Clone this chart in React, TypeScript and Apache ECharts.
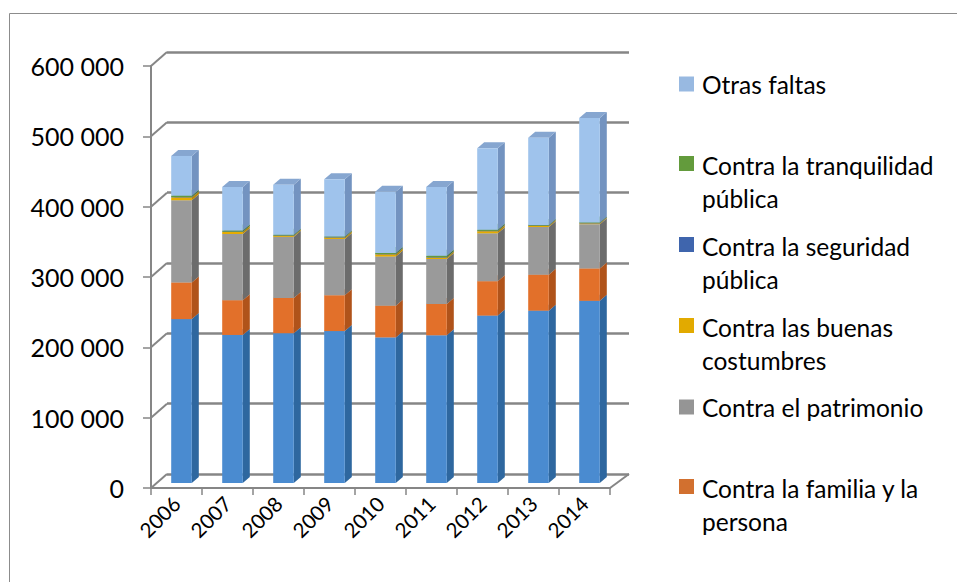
import { useEffect, useRef } from 'react';
import * as echarts from 'echarts';

const years = ['2006', '2007', '2008', '2009', '2010', '2011', '2012', '2013', '2014'];

// stacked from bottom to top
const baseSerie = [233000, 210500, 213000, 216000, 207000, 210000, 238000, 245000, 259000];
const familiaPersona = [52000, 49500, 50000, 51000, 45000, 44500, 49000, 51000, 46000];
const patrimonio = [117000, 94000, 87000, 80000, 70000, 64000, 68000, 68000, 63000];
const buenasCostumbres = [4000, 3000, 1500, 2000, 3000, 2000, 3000, 1500, 1000];
const seguridadPublica = [500, 400, 400, 500, 500, 500, 500, 500, 500];
const tranquilidadPublica = [2000, 1500, 1000, 1000, 1500, 2000, 1500, 1000, 1000];
const otrasFaltas = [56500, 62000, 71000, 81500, 87000, 98000, 116000, 124000, 148500];

const yTicks = [0, 100000, 200000, 300000, 400000, 500000, 600000];

const stackNames = [
  'Serie inferior',
  'Contra la familia y la persona',
  'Contra el patrimonio',
  'Contra las buenas costumbres',
  'Contra la seguridad pública',
  'Contra la tranquilidad pública',
  'Otras faltas',
];
const stackValues = [
  baseSerie,
  familiaPersona,
  patrimonio,
  buenasCostumbres,
  seguridadPublica,
  tranquilidadPublica,
  otrasFaltas,
];
const faceColors = [
  { front: '#4a8bd0', side: '#2e679f', top: '#6aa0d8', legend: '#4a8bd0' },
  { front: '#e2702a', side: '#b0531a', top: '#eb8a4c', legend: '#d2702f' },
  { front: '#9a9a9a', side: '#6c6c6c', top: '#adadad', legend: '#959595' },
  { front: '#e6ac00', side: '#b98900', top: '#f0c030', legend: '#e2aa00' },
  { front: '#4169b5', side: '#2f4f8a', top: '#5a80c4', legend: '#3f65ad' },
  { front: '#62993e', side: '#4a7630', top: '#7ab257', legend: '#639b3c' },
  { front: '#9fc3ec', side: '#7393c0', top: '#86a6d0', legend: '#98b9e1' },
];

const legendEntries = [
  { name: 'Otras faltas', text: 'Otras faltas', lineY: 84 },
  { name: 'Contra la tranquilidad pública', text: 'Contra la tranquilidad\npública', lineY: 165 },
  { name: 'Contra la seguridad pública', text: 'Contra la seguridad\npública', lineY: 246 },
  { name: 'Contra las buenas costumbres', text: 'Contra las buenas\ncostumbres', lineY: 327 },
  { name: 'Contra el patrimonio', text: 'Contra el patrimonio', lineY: 407 },
  { name: 'Contra la familia y la persona', text: 'Contra la familia y la\npersona', lineY: 488 },
];

const FRONT = { left: 151, top: 66, width: 459, height: 422 };
const BACK = { left: 167, top: 52, width: 462, height: 422 };
const BARS = { left: 156, top: 61, width: 459, height: 422 };
const AXIS_GRAY = '#868686';
const FONT = 'Lato, "Noto Sans", sans-serif';
const BAR_HALF = 10.3;
const SIDE_DX = 7;
const SIDE_DY = -6;
const ICON = 15;
const LINE_H = 33;
const TALL_H = 2 * LINE_H - ICON;
const TALL_ICON = `path://M0,0H${ICON}V${ICON}H0Z M0,${TALL_H - 0.05}H0.05V${TALL_H}H0Z`;

export default function App() {
  const ref = useRef<HTMLDivElement>(null);

  useEffect(() => {
    const chart = echarts.init(ref.current as HTMLDivElement, null, { renderer: 'svg' });

    const yAxisBase = { type: 'value', min: 0, max: 600000, interval: 100000 };

    const barSeries = stackNames.map((name, k) => {
      const data = years.map((_, i) => {
        let base = 0;
        for (let j = 0; j < k; j++) base += stackValues[j][i];
        return [i, base, base + stackValues[k][i]];
      });
      const c = faceColors[k];
      return {
        type: 'custom',
        name,
        xAxisIndex: 2,
        yAxisIndex: 2,
        itemStyle: { color: c.legend },
        encode: { x: 0, y: 2 },
        data,
        renderItem: (params: any, api: any) => {
          const i = api.value(0);
          const b = api.coord([i, api.value(1)]);
          const t = api.coord([i, api.value(2)]);
          const xL = b[0] - BAR_HALF;
          const xR = b[0] + BAR_HALF;
          const yB = b[1];
          const yT = t[1];
          return {
            type: 'group',
            children: [
              {
                type: 'polygon',
                shape: {
                  points: [
                    [xR, yB],
                    [xR + SIDE_DX, yB + SIDE_DY],
                    [xR + SIDE_DX, yT + SIDE_DY],
                    [xR, yT],
                  ],
                },
                style: { fill: c.side },
              },
              {
                type: 'polygon',
                shape: {
                  points: [
                    [xL, yT],
                    [xL + SIDE_DX, yT + SIDE_DY],
                    [xR + SIDE_DX, yT + SIDE_DY],
                    [xR, yT],
                  ],
                },
                style: { fill: c.top },
              },
              {
                type: 'rect',
                shape: { x: xL, y: yT, width: xR - xL, height: yB - yT },
                style: { fill: c.front },
              },
            ],
          };
        },
      };
    });

    const connectorSeries = {
      type: 'custom',
      name: 'conectores',
      xAxisIndex: 0,
      yAxisIndex: 0,
      silent: true,
      data: yTicks.map((v) => [0, v]),
      renderItem: (params: any, api: any) => {
        const p = api.coord([0, api.value(1)]);
        const bw = api.size([1, 0])[0];
        const x0 = p[0] - bw / 2;
        return {
          type: 'line',
          shape: { x1: x0, y1: p[1], x2: x0 + 16, y2: p[1] - 14 },
          style: { stroke: AXIS_GRAY, lineWidth: 2 },
        };
      },
    };

    const floorRightSeries = {
      type: 'custom',
      name: 'piso',
      xAxisIndex: 0,
      yAxisIndex: 0,
      silent: true,
      data: [[years.length - 1, 0]],
      renderItem: (params: any, api: any) => {
        const p = api.coord([api.value(0), api.value(1)]);
        const bw = api.size([1, 0])[0];
        const x0 = p[0] + bw / 2;
        return {
          type: 'line',
          shape: { x1: x0, y1: p[1], x2: x0 + 19, y2: p[1] - 14 },
          style: { stroke: AXIS_GRAY, lineWidth: 2 },
        };
      },
    };

    const legends = legendEntries.map((e) => {
      const twoLine = e.text.includes('\n');
      return {
        show: true,
        orient: 'vertical',
        left: 679,
        top: e.lineY - LINE_H / 2,
        padding: 0,
        itemGap: 0,
        selectedMode: false,
        data: [{ name: e.name, icon: twoLine ? TALL_ICON : 'rect' }],
        itemWidth: ICON,
        itemHeight: twoLine ? TALL_H : ICON,
        formatter: () => e.text,
        textStyle: {
          fontFamily: FONT,
          fontSize: 24.5,
          color: '#000',
          lineHeight: LINE_H,
          padding: [0, 0, 0, 3],
        },
      };
    });

    const option: any = {
      animation: false,
      backgroundColor: '#fff',
      graphic: [
        {
          type: 'rect',
          silent: true,
          shape: { x: 9.5, y: 13.5, width: 1200, height: 1000 },
          style: { fill: 'none', stroke: '#8c8c8c', lineWidth: 1 },
        },
      ],
      legend: legends,
      grid: [
        { ...FRONT, containLabel: false },
        { ...BACK, containLabel: false },
        { ...BARS, containLabel: false },
      ],
      xAxis: [
        {
          type: 'category',
          gridIndex: 0,
          data: years,
          boundaryGap: true,
          axisLine: { show: true, lineStyle: { color: AXIS_GRAY, width: 2 } },
          axisTick: { show: true, length: 7, alignWithLabel: false, lineStyle: { color: AXIS_GRAY, width: 1.5 } },
          axisLabel: {
            rotate: 45,
            margin: 12,
            fontFamily: FONT,
            fontSize: 20.5,
            color: '#000',
            interval: 0,
          },
          splitLine: { show: false },
        },
        { type: 'category', gridIndex: 1, data: years, show: false },
        { type: 'category', gridIndex: 2, data: years, show: false },
      ],
      yAxis: [
        {
          ...yAxisBase,
          gridIndex: 0,
          axisLine: { show: true, lineStyle: { color: AXIS_GRAY, width: 2 } },
          axisTick: { show: true, length: 8, lineStyle: { color: AXIS_GRAY, width: 1.5 } },
          axisLabel: {
            margin: 27,
            fontFamily: FONT,
            fontSize: 25,
            color: '#000',
            formatter: (v: number) => (v === 0 ? '0' : `${v / 1000} 000`),
          },
          splitLine: { show: false },
        },
        {
          ...yAxisBase,
          gridIndex: 1,
          axisLine: { show: false },
          axisTick: { show: false },
          axisLabel: { show: false },
          splitLine: { show: true, lineStyle: { color: AXIS_GRAY, width: 2.5 } },
        },
        { ...yAxisBase, gridIndex: 2, show: false },
      ],
      series: [connectorSeries, floorRightSeries, ...barSeries],
    };

    chart.setOption(option);
    return () => chart.dispose();
  }, []);

  return (
    <div
      ref={ref}
      style={{ position: 'fixed', left: 0, top: 0, width: 957, height: 582, background: '#fff' }}
    />
  );
}
